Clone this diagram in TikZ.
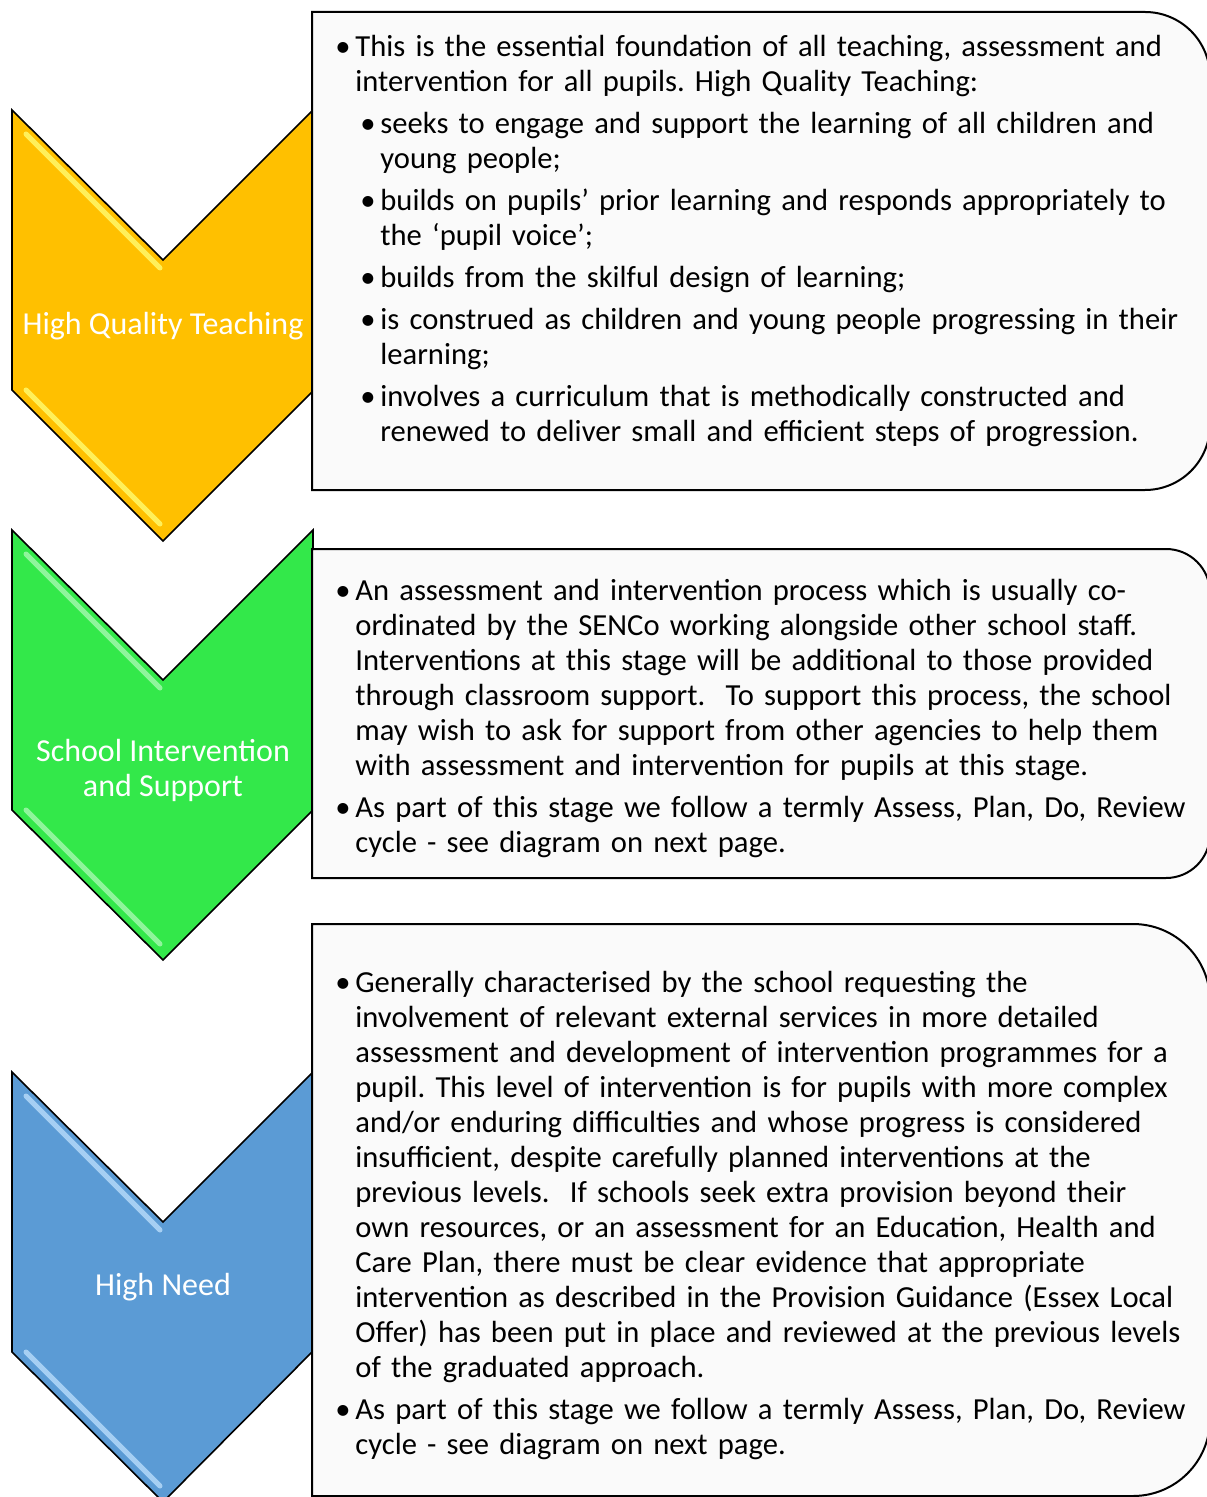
\documentclass[tikz,border=0pt]{standalone}
\usepackage{fontspec}
\setmainfont{Carlito}
\frenchspacing

\definecolor{hqyellow}{HTML}{FFC000}
\definecolor{hqyellowlight}{HTML}{FFF05A}
\definecolor{sisgreen}{HTML}{33E84A}
\definecolor{sisgreenlight}{HTML}{8FF59C}
\definecolor{hnblue}{HTML}{5B9BD5}
\definecolor{hnbluelight}{HTML}{A6CFF3}
\definecolor{panelfill}{HTML}{FAFAFA}

% bullets inside the panels (a \par goes between items)
\newcommand{\lvlone}{\hangindent=10pt\hangafter=1\noindent\makebox[10pt][l]{\textbullet}}
\newcommand{\lvltwo}{\hangindent=22.5pt\hangafter=1\noindent\hspace*{12.5pt}\makebox[10pt][l]{\textbullet}}

\begin{document}
\begin{tikzpicture}[
  x=0.5pt, y=-0.5pt,
  chev/.style={draw=black, line width=0.8pt, line join=miter},
  gloss/.style={line width=2.5pt, line cap=round},
  panel/.style={draw=black, line width=1pt, fill=panelfill},
  chevlabel/.style={text=white, align=center, font=\fontsize{16}{17.5}\selectfont},
  paneltext/.style={anchor=base west, inner sep=0pt, text width=460pt,
    font=\fontsize{15.3}{17.5}\selectfont}
]
\useasboundingbox (0,0) rectangle (1206,1497);

% --- Chevrons
\draw[chev, fill=hqyellow] (12,110) -- (163,260) -- (312,111) -- (312,392) -- (163,541) -- (12,390) -- cycle;
\draw[gloss, hqyellowlight] (26,134) -- (160,268);
\draw[gloss, hqyellowlight] (26,390) -- (160,524);

\draw[chev, fill=sisgreen] (12,530) -- (163,680) -- (313,530) -- (313,810) -- (163,960) -- (12,810) -- cycle;
\draw[gloss, sisgreenlight] (26,554) -- (160,688);
\draw[gloss, sisgreenlight] (26,810) -- (160,944);

\draw[chev, fill=hnblue] (12,1072) -- (163,1222) -- (312,1073) -- (312,1352) -- (163,1502) -- (12,1352) -- cycle;
\draw[gloss, hnbluelight] (26,1096) -- (160,1230);
\draw[gloss, hnbluelight] (26,1352) -- (160,1486);

\node[chevlabel, anchor=base] (hqt) at (163,335) {High Quality Teaching};
\node[chevlabel] (sis) at (163,770) {School Intervention\\and Support};
\node[chevlabel, anchor=base] (hn) at (163,1295) {High Need};

% --- Panels
\draw[panel] (312,490) -- (312,12) -- (1145,12) arc[start angle=90, end angle=0, radius=32.5pt]
  -- (1210,425) arc[start angle=0, end angle=-90, radius=32.5pt] -- cycle;
\draw[panel] (312,878) -- (312,549) -- (1166,549) arc[start angle=90, end angle=0, radius=22pt]
  -- (1210,834) arc[start angle=0, end angle=-90, radius=22pt] -- cycle;
\draw[panel] (312,1496) -- (312,924) -- (1133,924) arc[start angle=90, end angle=0, radius=38.5pt]
  -- (1210,1419) arc[start angle=0, end angle=-90, radius=38.5pt] -- cycle;

% --- Panel texts
\node[paneltext] (hqtext) at (335,57) {\setlength{\parskip}{3.5pt}%
\lvlone This is the essential foundation of all teaching, assessment and\newline
intervention for all pupils. High Quality Teaching:\par
\lvltwo seeks to engage and support the learning of all children and\newline
young people;\par
\lvltwo builds on pupils’ prior learning and responds appropriately to\newline
the ‘pupil voice’;\par
\lvltwo builds from the skilful design of learning;\par
\lvltwo is construed as children and young people progressing in their\newline
learning;\par
\lvltwo involves a curriculum that is methodically constructed and\newline
renewed to deliver small and efficient steps of progression.\par};

\node[paneltext] (sistext) at (335,600) {\setlength{\parskip}{3.5pt}%
\lvlone An assessment and intervention process which is usually co-\newline
ordinated by the SENCo working alongside other school staff.\newline
Interventions at this stage will be additional to those provided\newline
through classroom support.\ \ To support this process, the school\newline
may wish to ask for support from other agencies to help them\newline
with assessment and intervention for pupils at this stage.\par
\lvlone As part of this stage we follow a termly Assess, Plan, Do, Review\newline
cycle - see diagram on next page.\par};

\node[paneltext] (hntext) at (335,992) {\setlength{\parskip}{3.5pt}%
\lvlone Generally characterised by the school requesting the\newline
involvement of relevant external services in more detailed\newline
assessment and development of intervention programmes for a\newline
pupil. This level of intervention is for pupils with more complex\newline
and/or enduring difficulties and whose progress is considered\newline
insufficient, despite carefully planned interventions at the\newline
previous levels.\ \ If schools seek extra provision beyond their\newline
own resources, or an assessment for an Education, Health and\newline
Care Plan, there must be clear evidence that appropriate\newline
intervention as described in the Provision Guidance (Essex Local\newline
Offer) has been put in place and reviewed at the previous levels\newline
of the graduated approach.\par
\lvlone As part of this stage we follow a termly Assess, Plan, Do, Review\newline
cycle - see diagram on next page.\par};

\end{tikzpicture}
\end{document}
